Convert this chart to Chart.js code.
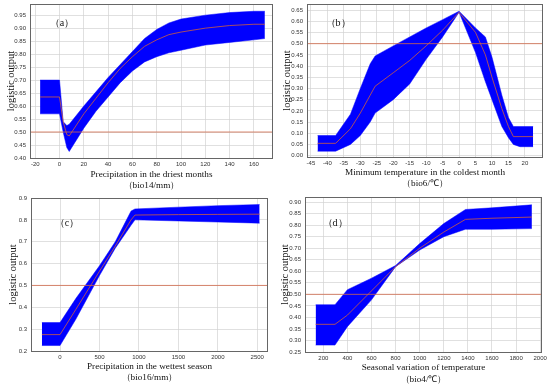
<!DOCTYPE html>
<html>
<head>
<meta charset="utf-8">
<script src="https://cdn.jsdelivr.net/npm/chart.js@4.4.1/dist/chart.umd.min.js"></script>
<style>
  body { margin: 0; background: #fff; }
  #wrap { position: relative; width: 550px; height: 387px; overflow: hidden; }
  canvas { position: absolute; }
  .lab { position: absolute; font-family: "Liberation Serif", serif; font-size: 10px; color: #111; transform: translate(-50%, -50%); white-space: nowrap; }
</style>
</head>
<body>
<div id="wrap">
  <canvas id="ca"></canvas>
  <canvas id="cb"></canvas>
  <canvas id="cc"></canvas>
  <canvas id="cd"></canvas>
  <div class="lab" style="left:62px;top:23px">（a）</div>
  <div class="lab" style="left:338px;top:23px">（b）</div>
  <div class="lab" style="left:67px;top:223px">（c）</div>
  <div class="lab" style="left:335px;top:223px">（d）</div>
</div>
<script>
// (a) precipitation in the driest months
var aX     = [-16, 0, 3, 6, 8, 20, 30, 40, 50, 60, 70, 80, 90, 100, 120, 140, 160, 169];
var aUpper = [0.70, 0.70, 0.54, 0.525, 0.53, 0.60, 0.655, 0.71, 0.76, 0.81, 0.86, 0.895, 0.92, 0.935, 0.95, 0.96, 0.965, 0.965];
var aLower = [0.57, 0.57, 0.50, 0.44, 0.425, 0.515, 0.58, 0.635, 0.69, 0.735, 0.77, 0.79, 0.805, 0.815, 0.835, 0.845, 0.855, 0.86];
var aMean  = [0.635, 0.635, 0.54, 0.49, 0.485, 0.57, 0.63, 0.69, 0.745, 0.79, 0.83, 0.855, 0.875, 0.885, 0.90, 0.91, 0.915, 0.915];
var aXTicks = [-20, 0, 20, 40, 60, 80, 100, 120, 140, 160];
var aYTicks = [0.40, 0.45, 0.50, 0.55, 0.60, 0.65, 0.70, 0.75, 0.80, 0.85, 0.90, 0.95];

// (b) minimum temperature in the coldest month
var bX     = [-43, -37.5, -33, -30, -27, -25.5, -20, -15, -10, -5, 0, 5, 8, 10, 13, 15, 16.5, 18.5, 22.5];
var bUpper = [0.09, 0.09, 0.185, 0.30, 0.41, 0.445, 0.49, 0.53, 0.57, 0.607, 0.645, 0.57, 0.53, 0.44, 0.27, 0.17, 0.13, 0.13, 0.13];
var bLower = [0.02, 0.02, 0.05, 0.09, 0.15, 0.19, 0.25, 0.32, 0.43, 0.53, 0.64, 0.46, 0.33, 0.25, 0.13, 0.08, 0.05, 0.04, 0.04];
var bMean  = [0.055, 0.055, 0.12, 0.19, 0.27, 0.31, 0.37, 0.425, 0.49, 0.56, 0.64, 0.55, 0.45, 0.35, 0.21, 0.13, 0.085, 0.085, 0.085];
var bXTicks = [-45, -40, -35, -30, -25, -20, -15, -10, -5, 0, 5, 10, 15, 20];
var bYTicks = [0, 0.05, 0.10, 0.15, 0.20, 0.25, 0.30, 0.35, 0.40, 0.45, 0.50, 0.55, 0.60, 0.65];

// (c) precipitation in the wettest season
var cX     = [-230, 0, 200, 500, 700, 900, 950, 1500, 2000, 2530];
var cUpper = [0.33, 0.33, 0.44, 0.59, 0.70, 0.84, 0.85, 0.858, 0.865, 0.87];
var cLower = [0.225, 0.225, 0.345, 0.545, 0.67, 0.775, 0.80, 0.795, 0.79, 0.785];
var cMean  = [0.275, 0.275, 0.39, 0.565, 0.68, 0.80, 0.822, 0.824, 0.825, 0.826];
var cXTicks = [0, 500, 1000, 1500, 2000, 2500];
var cYTicks = [0.2, 0.3, 0.4, 0.5, 0.6, 0.7, 0.8, 0.9];

// (d) seasonal variation of temperature
var dX     = [136, 297, 400, 600, 800, 1000, 1200, 1380, 1600, 1931];
var dUpper = [0.455, 0.455, 0.52, 0.57, 0.625, 0.72, 0.807, 0.868, 0.875, 0.888];
var dLower = [0.28, 0.28, 0.36, 0.476, 0.62, 0.692, 0.75, 0.782, 0.782, 0.785];
var dMean  = [0.37, 0.37, 0.41, 0.515, 0.62, 0.70, 0.77, 0.825, 0.83, 0.835];
var dXTicks = [200, 400, 600, 800, 1000, 1200, 1400, 1600, 1800, 2000];
var dYTicks = [0.25, 0.30, 0.35, 0.40, 0.45, 0.50, 0.55, 0.60, 0.65, 0.70, 0.75, 0.80, 0.85, 0.90];

var threshold = 0.5;

function pts(xs, ys) {
  return xs.map(function(x, i) { return {x: x, y: ys[i]}; });
}

// draw the closed MATLAB-style box round the plot area
var boxPlugin = {
  id: 'box',
  afterDraw: function(chart) {
    var a = chart.chartArea, c = chart.ctx;
    c.save();
    c.strokeStyle = '#666';
    c.lineWidth = 1;
    c.strokeRect(a.left + 0.5, a.top + 0.5, a.right - a.left - 1, a.bottom - a.top);
    c.restore();
  }
};

function makePanel(id, p) {
  var cv = document.getElementById(id);
  cv.style.left = p.ox + 'px';
  cv.style.top = p.oy + 'px';
  cv.style.width = p.w + 'px';
  cv.style.height = p.h + 'px';
  cv.width = p.w; cv.height = p.h;

  var left = p.area[0] - p.ox, top = p.area[1] - p.oy;
  var right = p.area[2] - p.ox, bottom = p.area[3] - p.oy;
  var titleSize = 9.2;
  var lh = p.gap;
  // first x-title line centre = h - (lh/2 + tpad + lh)
  var xTitleY = p.xt - p.oy;
  var tpadB = p.h - xTitleY - lh / 2 - lh;
  var yTitleX = p.yt - p.ox;

  new Chart(cv, {
    type: 'line',
    data: {
      datasets: [{
        data: pts(p.x, p.up), order: 3,
        borderColor: '#0000ff', borderWidth: 0.5, pointRadius: 0, tension: 0, fill: false
      }, {
        data: pts(p.x, p.lo), order: 2,
        borderColor: '#0000ff', borderWidth: 0.5, pointRadius: 0, tension: 0,
        fill: '-1', backgroundColor: '#0000ff'
      }, {
        data: pts(p.x, p.mean), order: 1,
        borderColor: '#d0603c', borderWidth: 0.8, pointRadius: 0, tension: 0, fill: false
      }, {
        data: pts([p.xmin, p.xmax], [threshold, threshold]), order: 0,
        borderColor: '#d2694a', borderWidth: 0.8, pointRadius: 0, fill: false
      }]
    },
    options: {
      responsive: false,
      animation: false,
      events: [],
      layout: { padding: { left: 0, top: top, right: p.w - right, bottom: 0 } },
      plugins: { legend: { display: false }, tooltip: { enabled: false } },
      scales: {
        x: {
          type: 'linear', min: p.xmin, max: p.xmax,
          afterBuildTicks: function(s) { s.ticks = p.xt_.map(function(v) { return {value: v}; }); },
          afterFit: function(s) { s.height = p.h - bottom; s.paddingLeft = 0; s.paddingRight = 0; },
          grid: { color: '#d3d3d3', lineWidth: 0.7, drawTicks: false },
          border: { display: false },
          ticks: {
            font: { family: 'Liberation Sans', size: 6 }, color: '#333', padding: 3, maxRotation: 0, autoSkip: false,
            callback: function(v) { return String(v); }
          },
          title: {
            display: true, text: p.xtitle, color: '#111',
            font: { family: 'Liberation Serif', size: titleSize, lineHeight: lh / titleSize },
            padding: { top: 0, bottom: tpadB }
          }
        },
        y: {
          type: 'linear', min: p.ymin, max: p.ymax,
          afterBuildTicks: function(s) { s.ticks = p.yt_.map(function(v) { return {value: v}; }); },
          afterFit: function(s) { s.width = left; s.paddingTop = 0; s.paddingBottom = 0; },
          grid: { color: '#d3d3d3', lineWidth: 0.7, drawTicks: false },
          border: { display: false },
          ticks: {
            font: { family: 'Liberation Sans', size: 6 }, color: '#333', padding: 4, autoSkip: false,
            callback: function(v) { return v.toFixed(p.dec); }
          },
          title: {
            display: true, text: 'logistic output', color: '#111',
            font: { family: 'Liberation Serif', size: 10.5, lineHeight: 1.2 },
            padding: { top: yTitleX - 6, bottom: 0 }
          }
        }
      }
    },
    plugins: [boxPlugin]
  });
}

makePanel('ca', {
  ox: 0, oy: 0, w: 275, h: 193, area: [30, 4, 273, 158],
  x: aX, up: aUpper, lo: aLower, mean: aMean, xt_: aXTicks, yt_: aYTicks,
  xmin: -24.3, xmax: 175.7, ymin: 0.40, ymax: 0.993, dec: 2,
  xtitle: ['Precipitation in the driest months', '（bio14/mm）'], xt: 175, gap: 11, yt: 11
});
makePanel('cb', {
  ox: 275, oy: 0, w: 275, h: 193, area: [307, 4, 543, 157],
  x: bX, up: bUpper, lo: bLower, mean: bMean, xt_: bXTicks, yt_: bYTicks,
  xmin: -46.2, xmax: 25.5, ymin: -0.006, ymax: 0.677, dec: 2,
  xtitle: ['Minimum temperature in the coldest month', '（bio6/℃）'], xt: 173, gap: 11, yt: 287
});
makePanel('cc', {
  ox: 0, oy: 193, w: 275, h: 194, area: [31, 198, 268, 351],
  x: cX, up: cUpper, lo: cLower, mean: cMean, xt_: cXTicks, yt_: cYTicks,
  xmin: -368, xmax: 2636, ymin: 0.2, ymax: 0.9, dec: 1,
  xtitle: ['Precipitation in the wettest season', '（bio16/mm）'], xt: 367, gap: 11, yt: 13
});
makePanel('cd', {
  ox: 275, oy: 193, w: 275, h: 194, area: [305, 197, 542, 352],
  x: dX, up: dUpper, lo: dLower, mean: dMean, xt_: dXTicks, yt_: dYTicks,
  xmin: 48, xmax: 2015, ymin: 0.25, ymax: 0.922, dec: 2,
  xtitle: ['Seasonal variation of temperature', '（bio4/℃）'], xt: 368, gap: 12, yt: 285
});
</script>
</body>
</html>
